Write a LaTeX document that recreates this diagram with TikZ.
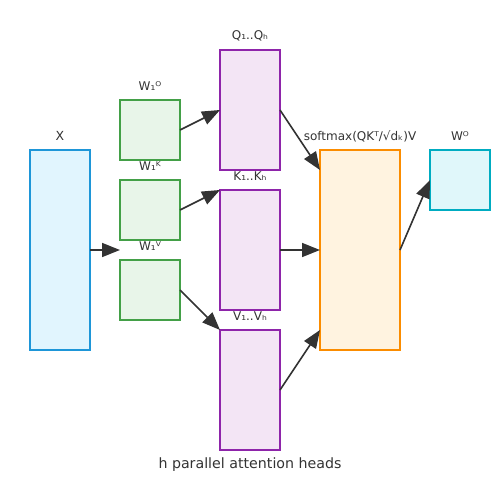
\documentclass[tikz,border=0pt]{standalone}
\usepackage{fontspec}
\setmainfont{DejaVu Sans}
\usetikzlibrary{arrows.meta}
\definecolor{txt}{HTML}{333333}
\definecolor{bluS}{HTML}{1E96D8}\definecolor{bluF}{HTML}{E1F5FE}
\definecolor{grnS}{HTML}{43A047}\definecolor{grnF}{HTML}{E8F5E9}
\definecolor{purS}{HTML}{8E24AA}\definecolor{purF}{HTML}{F3E5F5}
\definecolor{orgS}{HTML}{FB8C00}\definecolor{orgF}{HTML}{FFF3E0}
\definecolor{cyaS}{HTML}{00ACC1}\definecolor{cyaF}{HTML}{E0F7FA}
\tikzset{
  box/.style={draw, line width=1.5pt, inner sep=0pt, outer sep=0pt},
  xbox/.style={box, draw=bluS, fill=bluF},
  wbox/.style={box, draw=grnS, fill=grnF, minimum width=60pt, minimum height=60pt},
  pbox/.style={box, draw=purS, fill=purF, minimum width=60pt, minimum height=120pt},
  obox/.style={box, draw=orgS, fill=orgF},
  cbox/.style={box, draw=cyaS, fill=cyaF},
  lbl/.style={text=txt, font=\fontsize{12}{14}\selectfont, inner sep=0pt},
  conn/.style={draw=txt, line width=1.6pt, -{Triangle[length=18pt,width=14pt]}},
}
\begin{document}
\begin{tikzpicture}[x=1pt,y=-1pt]
\useasboundingbox (0,0) rectangle (500,500);
\node[xbox, minimum width=60pt, minimum height=200pt] (x) at (60,250) {};
\node[wbox] (w1) at (150,130) {};
\node[wbox] (w2) at (150,210) {};
\node[wbox] (w3) at (150,290) {};
\node[pbox] (q) at (250,110) {};
\node[pbox] (k) at (250,250) {};
\node[pbox] (v) at (250,390) {};
\node[obox, minimum width=80pt, minimum height=200pt] (o) at (360,250) {};
\node[cbox, minimum width=60pt, minimum height=60pt] (c) at (460,180) {};
\coordinate (xin) at (120,250);
\coordinate (oq) at (320,170);
\coordinate (ov) at (320,330);
\node[lbl, font=\fontsize{12.5}{14}\selectfont] (lx) at (60,136) {X};
\node[lbl] (lw1) at (150,86) {W₁ᴼ};
\node[lbl] (lw2) at (150,166) {W₁ᴷ};
\node[lbl] (lw3) at (150,246) {W₁ⱽ};
\node[lbl] (lq) at (250,36) {Q₁..Qₕ};
\node[lbl] (lk) at (250,176) {K₁..Kₕ};
\node[lbl] (lv) at (250,316) {V₁..Vₕ};
\node[lbl] (lo) at (360,136) {softmax(QKᵀ/√dₖ)V};
\node[lbl] (lc) at (460,136) {Wᴼ};
\node[text=txt, font=\fontsize{14.2}{16}\selectfont, inner sep=0pt] (cap) at (250,465) {h parallel attention heads};
\draw[conn] (x.east) -- (xin);
\draw[conn] (w1.east) -- (q.west);
\draw[conn] (w2.east) -- (k.north west);
\draw[conn] (w3.east) -- (v.north west);
\draw[conn] (q.east) -- (oq);
\draw[conn] (k.east) -- (o.west);
\draw[conn] (v.east) -- (ov);
\draw[conn] (o.east) -- (c.west);
\end{tikzpicture}
\end{document}
